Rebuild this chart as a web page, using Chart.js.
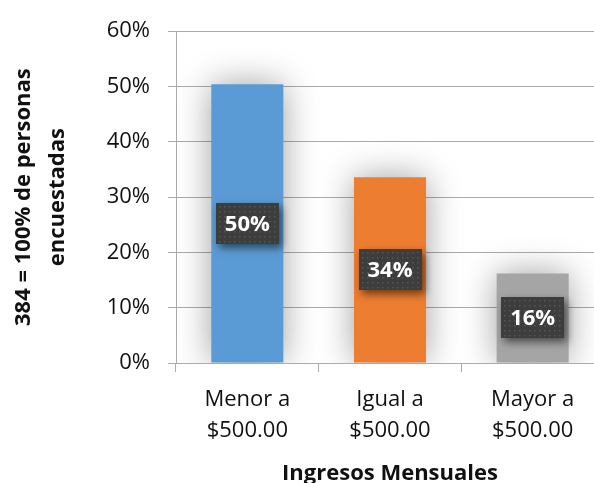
<!DOCTYPE html>
<html>
<head>
<meta charset="utf-8">
<script src="https://cdn.jsdelivr.net/npm/chart.js@4"></script>
<style>
	html, body { margin: 0; padding: 0; background: #fff; overflow: hidden; }
	#wrap { width: 604px; height: 483px; }
</style>
</head>
<body>
<div id="wrap"><canvas id="ingresosBar" width="604" height="483"></canvas></div>
<script>
"use strict";

var categories = [["Menor a", "$500.00"], ["Igual a", "$500.00"], ["Mayor a", "$500.00"]];
var percentValues = [50.4, 33.6, 16.2];
var percentLabels = ["50%", "34%", "16%"];
var barColors = ["#5B9BD5", "#ED7D31", "#A5A5A5"];
var yTickMax = 60;
var yTickStep = 10;

var fontFamily = "'Open Sans', sans-serif";

// shadow behind bars + dark value boxes
var barDecor = {
	id: "barDecor",
	beforeDatasetsDraw: function (chart) {
		var ctx = chart.ctx;
		ctx.save();
		ctx.shadowColor = "rgba(0, 0, 0, 0.38)";
		ctx.shadowBlur = 34;
	},
	afterDatasetsDraw: function (chart) {
		var ctx = chart.ctx;
		ctx.restore();
		var meta = chart.getDatasetMeta(0);
		meta.data.forEach(function (bar, i) {
			var w = 63, h = 41;
			var cx = bar.x, cy = (bar.y + bar.base) / 2;
			var x0 = Math.round(cx - w / 2), y0 = Math.round(cy - h / 2);
			ctx.save();
			ctx.shadowColor = "rgba(0, 0, 0, 0.55)";
			ctx.shadowBlur = 8;
			ctx.shadowOffsetX = 3;
			ctx.shadowOffsetY = 4;
			ctx.fillStyle = "#3d3d3d";
			ctx.fillRect(x0, y0, w, h);
			ctx.restore();
			ctx.save();
			ctx.fillStyle = "rgba(255, 255, 255, 0.13)";
			for (var dx = 3; dx < w; dx += 5) {
				for (var dy = 3; dy < h; dy += 5) {
					ctx.fillRect(x0 + dx, y0 + dy, 1.5, 1.5);
				}
			}
			ctx.fillStyle = "#ffffff";
			ctx.font = "bold 22px " + fontFamily;
			ctx.textAlign = "center";
			ctx.textBaseline = "middle";
			ctx.fillText(percentLabels[i], cx, cy + 1);
			ctx.restore();
		});
	},
};

function initIngresosBar() {
	var el = document.getElementById("ingresosBar");
	new Chart(el, {
		type: "bar",
		data: {
			labels: categories,
			datasets: [
				{
					data: percentValues,
					backgroundColor: barColors,
					categoryPercentage: 1,
					barPercentage: 0.505,
				},
			],
		},
		options: {
			responsive: false,
			animation: false,
			events: [],
			layout: {
				padding: { top: 26, left: 0, right: 0, bottom: 0 },
			},
			plugins: {
				legend: { display: false },
				tooltip: { enabled: false },
			},
			scales: {
				y: {
					min: 0,
					max: yTickMax,
					afterFit: function (scale) {
						scale.width = 176;
					},
					grid: {
						color: "#ababab",
						lineWidth: 1,
						tickLength: 8,
					},
					border: { color: "#ababab", width: 1 },
					ticks: {
						stepSize: yTickStep,
						padding: 18,
						color: "#111111",
						font: { family: fontFamily, size: 22 },
						callback: function (v) {
							return v + "%";
						},
					},
					title: {
						display: true,
						text: ["384 = 100% de personas", "encuestadas"],
						color: "#111111",
						padding: { top: 7, bottom: 0 },
						font: { family: fontFamily, size: 22, weight: "bold", lineHeight: 1.55 },
					},
				},
				x: {
					afterFit: function (scale) {
						scale.height = 120;
					},
					grid: {
						drawOnChartArea: false,
						color: "#ababab",
						tickLength: 9,
						offset: true,
					},
					border: { color: "#ababab", width: 1 },
					ticks: {
						padding: 12,
						color: "#111111",
						font: { family: fontFamily, size: 22, lineHeight: 1.43 },
					},
					title: {
						display: true,
						text: "Ingresos Mensuales",
						color: "#111111",
						padding: { top: 0, bottom: 0 },
						font: { family: fontFamily, size: 22, weight: "bold", lineHeight: 0.8 },
					},
				},
			},
		},
		plugins: [barDecor],
	});
}

(function () {
	initIngresosBar();
})();
</script>
</body>
</html>
